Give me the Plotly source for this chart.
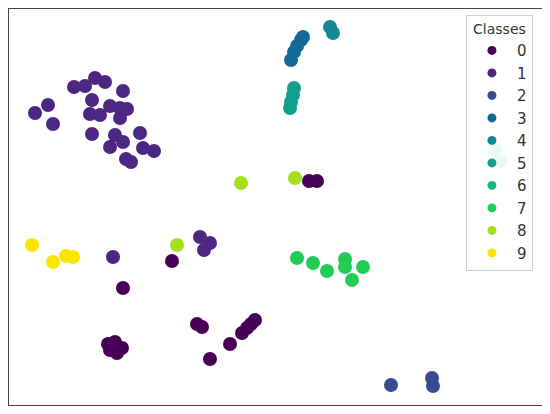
import plotly.graph_objects as go

# embedding coordinates per class
x0 = [3.4, 4.2, -10.3, -15.2, -16.7, -16.0, -15.3, -16.5, -15.8, -7.8, -7.3, -6.5, -4.5, -3.3, -2.8, -2.4, -2.0]
y0 = [2.6, 2.6, -5.4, -8.1, -13.7, -13.5, -14.1, -14.3, -14.6, -11.7, -12.0, -15.2, -13.7, -12.6, -12.1, -11.7, -11.3]

x1 = [-24.0, -22.7, -22.2, -20.1, -19.0, -18.0, -17.0, -15.2, -18.3, -18.5, -17.5, -16.5, -15.5, -14.8,
      -15.5, -18.3, -16.0, -15.2, -16.5, -13.5, -13.2, -12.1, -14.9, -14.4, -16.2, -7.5, -6.5, -7.1]
y1 = [9.4, 10.2, 8.3, 12.0, 12.1, 12.9, 12.5, 11.6, 10.7, 9.3, 9.2, 10.1, 9.9, 9.8,
      8.9, 7.3, 7.2, 6.5, 6.0, 7.4, 5.9, 5.6, 4.8, 4.5, -5.0, -3.0, -3.6, -4.3]

x2 = [11.6, 15.7, 15.8]
y2 = [-17.8, -17.1, -17.9]

x3 = [1.6, 1.9, 2.2, 2.6, 2.8]
y3 = [14.7, 15.5, 16.1, 16.7, 17.0]

x4 = [5.5, 5.8]
y4 = [18.0, 17.4]

x5 = [1.9, 1.8, 1.6, 1.5]
y5 = [11.9, 11.2, 10.5, 9.9]

x6 = [22.0, 22.6]
y6 = [5.7, 4.6]

x7 = [2.2, 3.8, 5.2, 7.0, 7.0, 8.8, 7.7]
y7 = [-5.1, -5.6, -6.4, -5.2, -6.0, -6.0, -7.3]

x8 = [-3.4, 2.0, -9.8]
y8 = [2.4, 2.9, -3.8]

x9 = [-24.3, -22.2, -20.9, -20.2]
y9 = [-3.8, -5.5, -4.9, -5.0]

classes = ['0', '1', '2', '3', '4', '5', '6', '7', '8', '9']
xs = [x0, x1, x2, x3, x4, x5, x6, x7, x8, x9]
ys = [y0, y1, y2, y3, y4, y5, y6, y7, y8, y9]
colors = ['#480057', '#4b2682', '#3a4b94', '#146a96', '#128892',
          '#12a08c', '#18b87a', '#22cc55', '#a8de1c', '#fde300']

fig = go.Figure()
for c, x, y, col in zip(classes, xs, ys, colors):
    fig.add_trace(go.Scatter(
        x=x, y=y, mode='markers', legendgroup=c, showlegend=False,
        marker=dict(size=14, color=col, line=dict(width=0))
    ))
    # legend entry with smaller dot
    fig.add_trace(go.Scatter(
        x=[None], y=[None], mode='markers', name=c, legendgroup=c,
        marker=dict(size=9, color=col)
    ))

# page body has an 8px margin, so the figure is sized/offset to land the frame where the reference has it
fig.update_layout(
    width=542, height=406,
    margin=dict(l=1, r=8, t=1, b=9),
    plot_bgcolor='white',
    paper_bgcolor='white',
    font=dict(family='DejaVu Sans', size=15, color='#333333'),
    legend=dict(
        title=dict(text='Classes', side='top center', font=dict(size=14)),
        x=0.983, y=0.985, xanchor='right', yanchor='top',
        bgcolor='rgba(255,255,255,0.92)',
        bordercolor='#d0d0d0', borderwidth=1,
        itemwidth=40, tracegroupgap=0,
        font=dict(size=15)
    )
)
fig.update_xaxes(range=[-26.6, 26.7], showticklabels=False, ticks='', showgrid=False,
                 zeroline=False, showline=True, mirror=True, linecolor='#444444', linewidth=1)
fig.update_yaxes(range=[-19.8, 19.8], showticklabels=False, ticks='', showgrid=False,
                 zeroline=False, showline=True, mirror=True, linecolor='#444444', linewidth=1)

fig.write_html("out.html")
